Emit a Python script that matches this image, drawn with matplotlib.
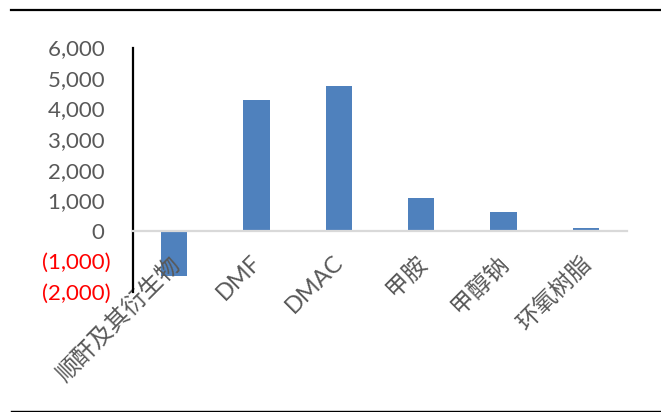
import matplotlib
matplotlib.use("Agg")
import matplotlib.pyplot as plt
import matplotlib.transforms as mtransforms
from matplotlib.lines import Line2D
from matplotlib.ticker import FuncFormatter

# data
categories = ["顺酐及其衍生物", "DMF", "DMAC", "甲胺", "甲醇钠", "环氧树脂"]
values = [-1470, 4290, 4740, 1070, 610, 90]
y_ticks = [-2000, -1000, 0, 1000, 2000, 3000, 4000, 5000, 6000]

BAR_COLOR = "#4F81BD"
TEXT_GRAY = "#595959"
FONTS = ["Lato", "Noto Sans CJK SC", "DejaVu Sans"]

plt.rcParams["font.family"] = FONTS

fig = plt.figure(figsize=(6.61, 4.12), dpi=100)
ax = fig.add_axes([0.2012, 0.292, 0.7474, 0.5927])

x = list(range(len(categories)))
ax.bar(x, values, width=0.32, color=BAR_COLOR, zorder=1)

ax.set_xlim(-0.5, len(categories) - 0.5)
ax.set_ylim(-2000, 6000)

# spines: black y axis, light gray zero line
for side in ["top", "right"]:
    ax.spines[side].set_visible(False)
ax.spines["left"].set_color("black")
ax.spines["left"].set_linewidth(1.6)
ax.spines["bottom"].set_position(("data", 0))
ax.spines["bottom"].set_color("#D9D9D9")
ax.spines["bottom"].set_linewidth(1.6)


def fmt(v, pos):
    if v < 0:
        return "({:,.0f})".format(-v)
    return "{:,.0f} ".format(v)


ax.set_yticks(y_ticks)
ax.yaxis.set_major_formatter(FuncFormatter(fmt))
ax.tick_params(axis="y", length=0, pad=16, labelsize=16, labelcolor=TEXT_GRAY)
for lbl, v in zip(ax.get_yticklabels(), y_ticks):
    if v < 0:
        lbl.set_color("#FF0000")

ax.set_xticks(x)
ax.set_xticklabels(categories, rotation=45, ha="right", va="top",
                   rotation_mode="anchor")
ax.tick_params(axis="x", length=0, pad=15, labelsize=17, labelcolor=TEXT_GRAY)
# nudge the rotated category labels a little to the left
shift = mtransforms.ScaledTranslation(-0.06, 0, fig.dpi_scale_trans)
for lbl in ax.get_xticklabels():
    lbl.set_transform(lbl.get_transform() + shift)

# horizontal rules at top and bottom of the picture
fig.add_artist(Line2D([11 / 661, 1.0], [1 - 10 / 412] * 2, color="black",
                      linewidth=1.6, transform=fig.transFigure))
fig.add_artist(Line2D([11 / 661, 1.0], [1 - 410.5 / 412] * 2, color="black",
                      linewidth=1.0, transform=fig.transFigure))

fig.savefig("out.png", dpi=100)
